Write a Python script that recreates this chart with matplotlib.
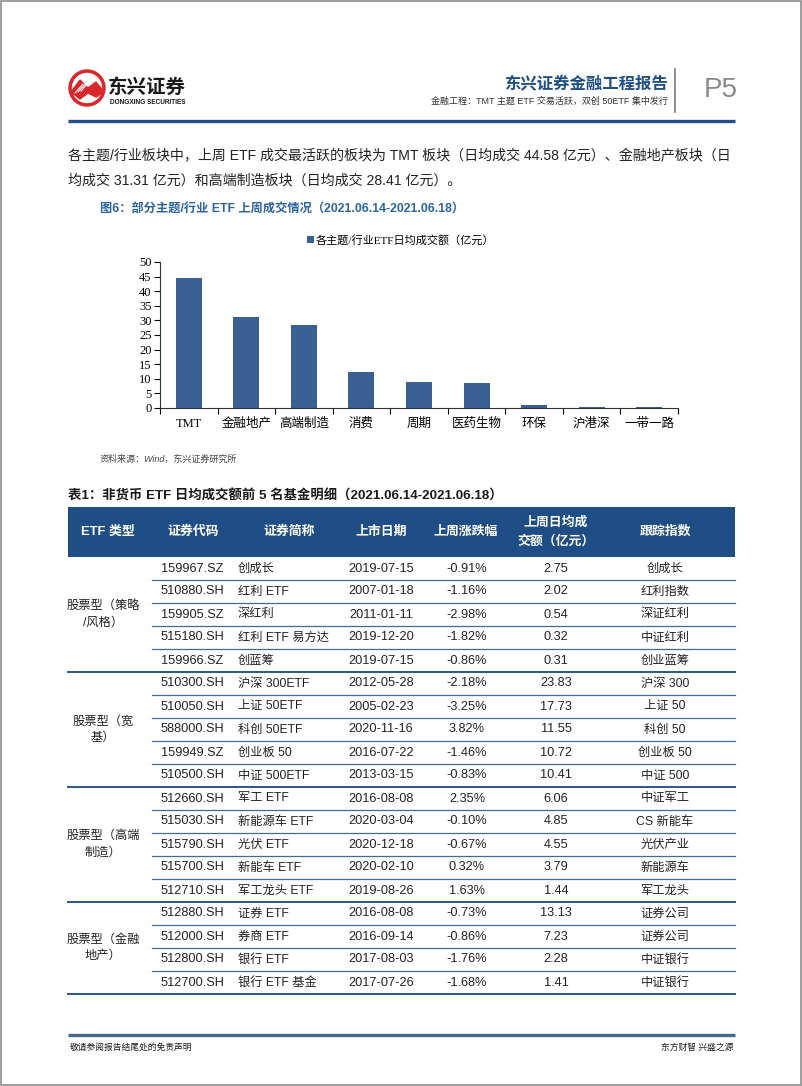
import numpy as np
import matplotlib
matplotlib.use("Agg")
import matplotlib.pyplot as plt
from matplotlib.patches import Rectangle, Circle, Polygon

# ---- chart data ----
categories = ["TMT", "金融地产", "高端制造", "消费", "周期", "医药生物", "环保", "沪港深", "一带一路"]
turnover = [44.58, 31.31, 28.41, 12.2, 8.8, 8.5, 1.0, 0.5, 0.4]
series_name = "各主题/行业ETF日均成交额（亿元）"
y_ticks = [0, 5, 10, 15, 20, 25, 30, 35, 40, 45, 50]

# ---- table data ----
table_header = ["ETF 类型", "证券代码", "证券简称", "上市日期", "上周涨跌幅", "上周日均成\n交额（亿元）", "跟踪指数"]
groups = ["股票型（策略\n/风格）", "股票型（宽\n基）", "股票型（高端\n制造）", "股票型（金融\n地产）"]
group_sizes = [5, 5, 5, 4]
codes = ["159967.SZ", "510880.SH", "159905.SZ", "515180.SH", "159966.SZ",
         "510300.SH", "510050.SH", "588000.SH", "159949.SZ", "510500.SH",
         "512660.SH", "515030.SH", "515790.SH", "515700.SH", "512710.SH",
         "512880.SH", "512000.SH", "512800.SH", "512700.SH"]
names = ["创成长", "红利 ETF", "深红利", "红利 ETF 易方达", "创蓝筹",
         "沪深 300ETF", "上证 50ETF", "科创 50ETF", "创业板 50", "中证 500ETF",
         "军工 ETF", "新能源车 ETF", "光伏 ETF", "新能车 ETF", "军工龙头 ETF",
         "证券 ETF", "券商 ETF", "银行 ETF", "银行 ETF 基金"]
list_dates = ["2019-07-15", "2007-01-18", "2011-01-11", "2019-12-20", "2019-07-15",
              "2012-05-28", "2005-02-23", "2020-11-16", "2016-07-22", "2013-03-15",
              "2016-08-08", "2020-03-04", "2020-12-18", "2020-02-10", "2019-08-26",
              "2016-08-08", "2016-09-14", "2017-08-03", "2017-07-26"]
weekly_change = ["-0.91%", "-1.16%", "-2.98%", "-1.82%", "-0.86%",
                 "-2.18%", "-3.25%", "3.82%", "-1.46%", "-0.83%",
                 "2.35%", "-0.10%", "-0.67%", "0.32%", "1.63%",
                 "-0.73%", "-0.86%", "-1.76%", "-1.68%"]
daily_turnover = ["2.75", "2.02", "0.54", "0.32", "0.31",
                  "23.83", "17.73", "11.55", "10.72", "10.41",
                  "6.06", "4.85", "4.55", "3.79", "1.44",
                  "13.13", "7.23", "2.28", "1.41"]
tracking_index = ["创成长", "红利指数", "深证红利", "中证红利", "创业蓝筹",
                  "沪深 300", "上证 50", "科创 50", "创业板 50", "中证 500",
                  "中证军工", "CS 新能车", "光伏产业", "新能源车", "军工龙头",
                  "证券公司", "证券公司", "中证银行", "中证银行"]

SANS = ["Liberation Sans", "Noto Sans CJK SC"]
SERIF = ["Liberation Serif", "Noto Sans CJK SC"]
BLUE = "#1f4e86"
BAR = "#3a5f93"
TXT = "#222222"

W, H = 802, 1086
fig = plt.figure(figsize=(W / 100, H / 100), dpi=100)
bg = fig.add_axes([0, 0, 1, 1])
bg.set_xlim(0, W)
bg.set_ylim(H, 0)
bg.axis("off")

# page frame
bg.add_patch(Rectangle((0.5, 0.5), W - 1.5, H - 1.5, fill=False, ec="#8c8c8c", lw=1.2))

# ---- header ----
bg.add_patch(Circle((87, 88), 18, color="#d9262b"))
bg.add_patch(Circle((87, 88), 14.5, color="white"))
bg.add_patch(Polygon([[71, 92], [80, 80], [88, 88], [96, 82], [104, 92], [96, 97], [88, 93], [80, 99]],
                     closed=True, color="#d9262b"))
for k in range(3):
    bg.plot([75 + 3 * k, 83 + 3 * k], [93 - k, 84 - k], color="white", lw=0.8)
bg.text(108, 88, "东兴证券", family=SANS, fontsize=14, fontweight="bold", color="#1a1a1a", va="center")
bg.text(110, 102, "DONGXING SECURITIES", family=SANS, fontsize=4.7, fontweight="bold", color="#1a1a1a", va="center")

bg.text(668, 84, "东兴证券金融工程报告", family=SANS, fontsize=11.8, fontweight="bold", color=BLUE,
        ha="right", va="center")
bg.text(668, 101, "金融工程：TMT 主题 ETF 交易活跃，双创 50ETF 集中发行", family=SANS, fontsize=6.5,
        color="#333333", ha="right", va="center")
bg.plot([675, 675], [69, 112], color="#7f7f7f", lw=1.2)
bg.text(721, 90, "P5", family=SANS, fontsize=20, color="#8a8a8a", ha="center", va="center")
bg.plot([68, 735], [121, 121], color="#1f4e8c", lw=2.4, solid_capstyle="butt")

# ---- body text ----
bg.text(68, 156, "各主题/行业板块中，上周 ETF 成交最活跃的板块为 TMT 板块（日均成交 44.58 亿元）、金融地产板块（日",
        family=SANS, fontsize=10.1, color=TXT, va="center")
bg.text(68, 181, "均成交 31.31 亿元）和高端制造板块（日均成交 28.41 亿元）。",
        family=SANS, fontsize=10.1, color=TXT, va="center")
bg.text(100, 209, "图6：部分主题/行业 ETF 上周成交情况（2021.06.14-2021.06.18）",
        family=SANS, fontsize=8.8, fontweight="bold", color="#2b63a0", va="center")

# ---- bar chart ----
x0, x1, y0, y1 = 160, 678, 408, 262
ax = fig.add_axes([x0 / W, 1 - y0 / H, (x1 - x0) / W, (y0 - y1) / H])
pos = np.arange(len(categories))
ax.bar(pos, turnover, width=0.45, color=BAR, label=series_name)
ax.set_xlim(-0.5, len(categories) - 0.5)
ax.set_ylim(0, 50)
ax.set_yticks(y_ticks)
ax.set_yticklabels([str(v) for v in y_ticks], family=SERIF, fontsize=9)
ax.set_xticks(np.arange(-0.5, len(categories), 1))
ax.set_xticklabels([])
ax.set_xticks(pos, minor=True)
ax.set_xticklabels(categories, minor=True, family=SERIF, fontsize=9)
ax.tick_params(axis="x", which="major", direction="out", length=4, width=0.8)
ax.tick_params(axis="x", which="minor", length=0, pad=7)
ax.tick_params(axis="y", direction="out", length=4, width=0.8, pad=2)
for s in ["top", "right"]:
    ax.spines[s].set_visible(False)
for s in ["left", "bottom"]:
    ax.spines[s].set_linewidth(0.8)
    ax.spines[s].set_color("#333333")
leg = ax.legend(loc="center", bbox_to_anchor=(0.465, 1.15), frameon=False, handlelength=0.6,
                handleheight=0.6, handletextpad=0.2, prop={"family": SERIF, "size": 8})

bg.text(100, 459, "资料来源：Wind，东兴证券研究所", family=SANS, fontsize=6.5, style="italic",
        color="#444444", va="center")

# ---- table ----
bg.text(68, 496, "表1：非货币 ETF 日均成交额前 5 名基金明细（2021.06.14-2021.06.18）",
        family=SANS, fontsize=9.6, fontweight="bold", color="#1a1a1a", va="center")

tx0, tx1 = 68, 735
head_top, head_bot = 507, 557
row_h = 23
bg.add_patch(Rectangle((tx0, head_top), tx1 - tx0, head_bot - head_top, color=BLUE, lw=0))
head_x = [108, 193, 289, 381, 466, 556, 665]
for hx, lab in zip(head_x, table_header):
    bg.text(hx, (head_top + head_bot) / 2, lab, family=SANS, fontsize=9.3, fontweight="bold",
            color="white", ha="center", va="center", linespacing=1.6)

col_code, col_name, col_date, col_pct, col_vol, col_idx = 192, 238, 381, 467, 556, 665
start = 0
for g, n in zip(groups, group_sizes):
    for i in range(start, start + n):
        top = head_bot + i * row_h
        yc = top + row_h / 2
        bg.text(col_code, yc, codes[i], family=SANS, fontsize=9.2, color=TXT, ha="center", va="center")
        bg.text(col_name, yc, names[i], family=SANS, fontsize=8.8, color=TXT, ha="left", va="center")
        bg.text(col_date, yc, list_dates[i], family=SANS, fontsize=9.2, color=TXT, ha="center", va="center")
        bg.text(col_pct, yc, weekly_change[i], family=SANS, fontsize=9.2, color=TXT, ha="center", va="center")
        bg.text(col_vol, yc, daily_turnover[i], family=SANS, fontsize=9.2, color=TXT, ha="center", va="center")
        bg.text(col_idx, yc, tracking_index[i], family=SANS, fontsize=8.8, color=TXT, ha="center", va="center")
        if i < start + n - 1:
            bg.plot([152, tx1], [top + row_h, top + row_h], color="#3c6c9c", lw=0.9)
    g_top = head_bot + start * row_h
    g_bot = head_bot + (start + n) * row_h
    bg.text(103, (g_top + g_bot) / 2, g, family=SANS, fontsize=8.8, color=TXT,
            ha="center", va="center", linespacing=1.5)
    bg.plot([tx0, tx1], [g_bot, g_bot], color="#2c5786", lw=1.4)
    start += n

# ---- footer ----
bg.plot([68, 735], [1035, 1035], color="#4a6889", lw=2.4, solid_capstyle="butt")
bg.text(70, 1047, "敬请参阅报告结尾处的免责声明", family=SANS, fontsize=6.3, color="#1a1a1a", va="center")
bg.text(733, 1047, "东方财智 兴盛之源", family=SANS, fontsize=6.3, color="#1a1a1a", ha="right", va="center")

fig.savefig("out.png", dpi=100)
plt.close(fig)
